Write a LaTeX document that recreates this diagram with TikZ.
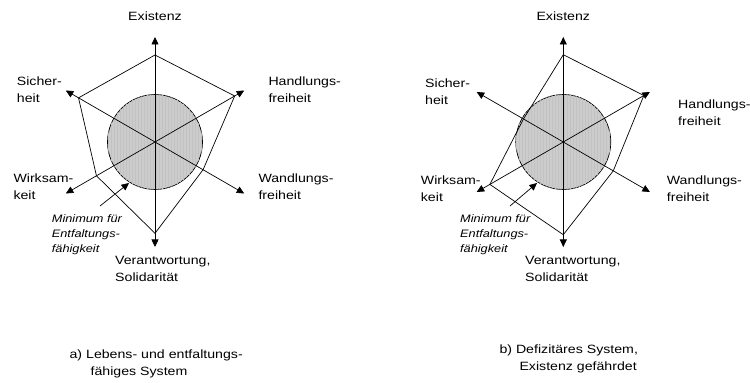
\documentclass[tikz,border=0pt]{standalone}
\usepackage{fontspec}
\setmainfont{Liberation Sans}[FakeStretch=1.18]
\usetikzlibrary{arrows.meta, patterns}

\begin{document}
\begin{tikzpicture}[x=1pt, y=1pt,
      axis/.style={-{Triangle[length=7.5pt, width=7pt]}, line width=0.7pt},
      web/.style={line width=0.7pt, line join=miter},
      core/.style={circle, draw, line width=0.7pt, fill=gray!40, minimum size=95pt, inner sep=0pt,
        postaction={pattern=vertical lines, pattern color=gray!48}},
      label/.style={inner sep=0pt, align=left, anchor=north west, font=\fontsize{12}{17}\selectfont},
      note/.style={inner sep=0pt, align=left, anchor=north west, font=\fontsize{10.8}{15}\selectfont\itshape}]

  \useasboundingbox (0,0) rectangle (750,383);

  % a) Lebens- und entfaltungsfaehiges System
  \begin{scope}[shift={(155,241)}]
    \coordinate (a-c) at (0,0);
    \node[core] (a-min) at (a-c) {};
    \foreach \ang/\len [count=\i] in {90/105, 30/103, -30/103, -90/105, 210/103, 150/103} {
      \coordinate (a-t\i) at (\ang:\len);
      \draw[axis] (a-c) -- (a-t\i);
    }
    \foreach \ang/\r [count=\i] in {90/87, 30/92, -30/55.5, -90/91.3, 210/67.6, 150/88.3}
      \coordinate (a-p\i) at (\ang:\r);
    \draw[web] (a-p1) -- (a-p2) -- (a-p3) -- (a-p4) -- (a-p5) -- (a-p6) -- cycle;
  \end{scope}

  \node[label, anchor=base] (a-ex) at (155,362) {Existenz};
  \node[label] (a-si) at (16.7,306.7) {Sicher-\\heit};
  \node[label] (a-ha) at (268.3,306.7) {Handlungs-\\freiheit};
  \node[label] (a-wi) at (13.3,209) {Wirksam-\\keit};
  \node[label] (a-wa) at (258.3,209) {Wandlungs-\\freiheit};
  \node[label] (a-ve) at (115,126.7) {Verantwortung,\\Solidarität};
  \node[note] (a-mi) at (51.7,168.2) {Minimum für\\Entfaltungs-\\fähigkeit};
  \coordinate (a-ms) at (100,177);
  \coordinate (a-me) at (129,200);
  \draw[axis] (a-ms) -- (a-me);
  \node[label, anchor=north east] (a-cap) at (243,33.7) {a) Lebens- und entfaltungs-\\\hspace*{21pt}fähiges System};

  % b) Defizitaeres System
  \begin{scope}[shift={(563.3,241)}]
    \coordinate (b-c) at (0,0);
    \node[core] (b-min) at (b-c) {};
    \foreach \ang/\len [count=\i] in {90/105, 30/100, -30/100, -90/105, 210/100, 150/100} {
      \coordinate (b-t\i) at (\ang:\len);
      \draw[axis] (b-c) -- (b-t\i);
    }
    \foreach \ang/\r [count=\i] in {90/87.3, 30/93, -30/57.7, -90/92.7, 210/84.8, 150/46}
      \coordinate (b-p\i) at (\ang:\r);
    \draw[web] (b-p1) -- (b-p2) -- (b-p3) -- (b-p4) -- (b-p5) -- (b-p6) -- cycle;
  \end{scope}

  \node[label, anchor=base] (b-ex) at (563.3,362) {Existenz};
  \node[label] (b-si) at (425,304.7) {Sicher-\\heit};
  \node[label] (b-ha) at (678,283.4) {Handlungs-\\freiheit};
  \node[label] (b-wi) at (420.7,207.7) {Wirksam-\\keit};
  \node[label] (b-wa) at (666.7,207.7) {Wandlungs-\\freiheit};
  \node[label] (b-ve) at (525,126.7) {Verantwortung,\\Solidarität};
  \node[note] (b-mi) at (460,168.2) {Minimum für\\Entfaltungs-\\fähigkeit};
  \coordinate (b-ms) at (510,177);
  \coordinate (b-me) at (537,200);
  \draw[axis] (b-ms) -- (b-me);
  \node[label] (b-cap) at (499.3,38.4) {b) Defizitäres System,\\\hspace*{20pt}Existenz gefährdet};
\end{tikzpicture}
\end{document}
